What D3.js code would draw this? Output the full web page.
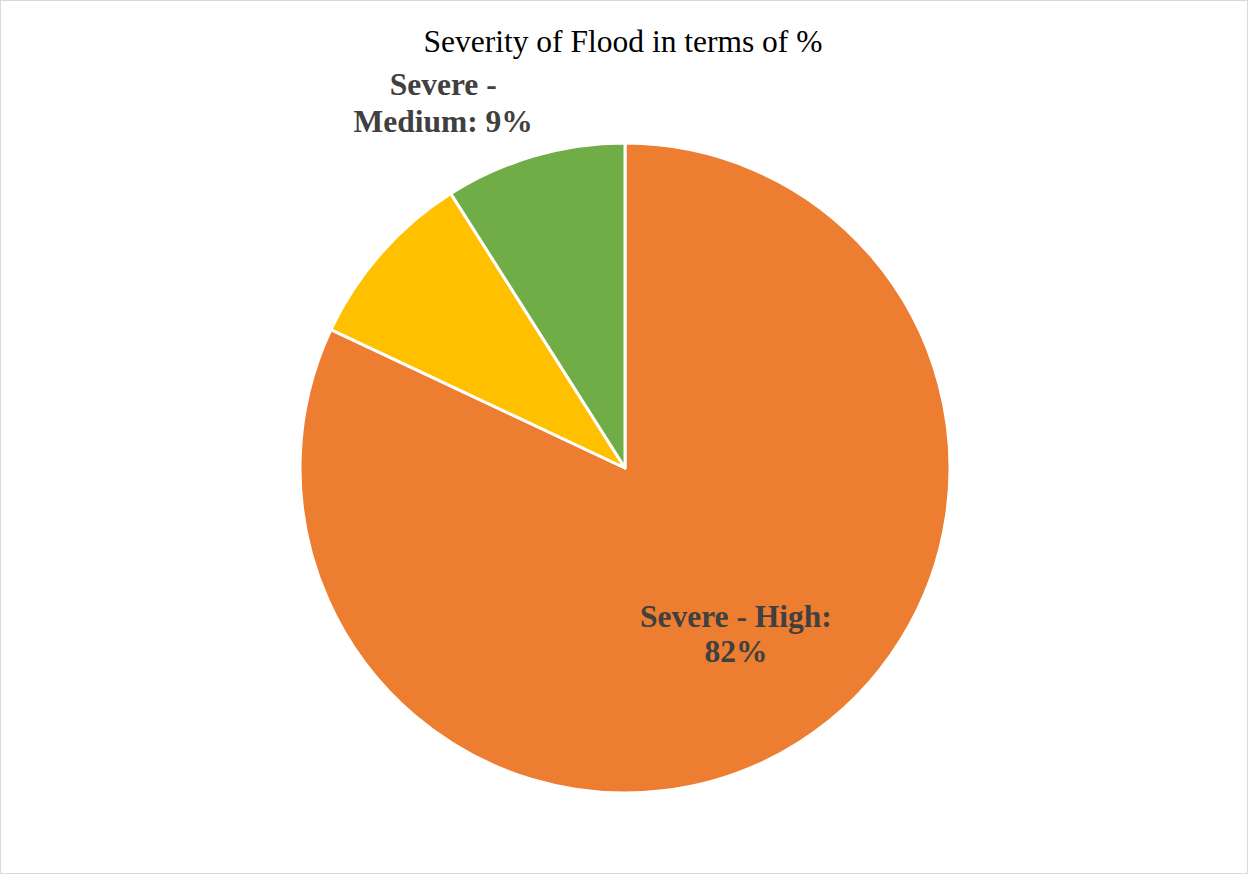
<!DOCTYPE html>
<html>
<head>
<meta charset="utf-8">
<script src="https://cdn.jsdelivr.net/npm/d3@7"></script>
<style>
  html, body { margin: 0; padding: 0; background: #ffffff; }
  svg { display: block; }
</style>
</head>
<body>
<script>
// ---- data ----
const categories = ["Severe - High", "Severe - Low", "Severe - Medium"];
const values = [82, 9, 9];
const colors = ["#ED7D31", "#FFC000", "#70AD47"];
const showLabel = [true, false, true];
const title = "Severity of Flood in terms of %";

// ---- layout ----
const W = 1249, H = 875;
const cx = 625, cy = 468, R = 325;

const svg = d3.select("body").append("svg")
  .attr("width", W).attr("height", H);

svg.append("rect")
  .attr("x", 0.5).attr("y", 0.5)
  .attr("width", W - 2).attr("height", H - 2)
  .attr("fill", "#ffffff")
  .attr("stroke", "#D9D9D9").attr("stroke-width", 1);

svg.append("text")
  .attr("x", 623).attr("y", 52)
  .attr("text-anchor", "middle")
  .attr("font-family", "'Liberation Serif', 'Times New Roman', serif")
  .attr("font-size", 31.5)
  .attr("fill", "#000000")
  .text(title);

const data = categories.map((c, i) => ({ name: c, value: values[i], color: colors[i], show: showLabel[i] }));

const pie = d3.pie().value(d => d.value).sort(null);
const arc = d3.arc().innerRadius(0).outerRadius(R);
const arcs = pie(data);

const g = svg.append("g").attr("transform", `translate(${cx},${cy})`);

g.selectAll("path").data(arcs).enter().append("path")
  .attr("d", arc)
  .attr("fill", d => d.data.color)
  .attr("stroke", "#ffffff")
  .attr("stroke-width", 3)
  .attr("stroke-linejoin", "round");

// label placement: inside for big slice, outside for small slices
function labelLines(d) {
  const pct = Math.round(d.value / d3.sum(values) * 100) + "%";
  if (d.name === "Severe - High") return [d.name + ":", pct];
  const parts = d.name.split(" - ");
  return [parts[0] + " -", parts[1] + ": " + pct];
}

function labelPos(a) {
  const mid = (a.startAngle + a.endAngle) / 2;
  if (a.data.value > 50) {
    const ang = mid - 0.025;
    const r = R * 0.613;
    return [Math.sin(ang) * r, -Math.cos(ang) * r, 35];
  } else {
    const ang = mid - 0.179;
    const r = R * 1.256;
    return [Math.sin(ang) * r, -Math.cos(ang) * r, 37];
  }
}

arcs.filter(a => a.data.show).forEach(a => {
  const [lx, ly, lineH] = labelPos(a);
  const lines = labelLines(a.data);
  const t = g.append("text")
    .attr("text-anchor", "middle")
    .attr("font-family", "'Liberation Serif', 'Times New Roman', serif")
    .attr("font-weight", "bold")
    .attr("font-size", 31.5)
    .attr("fill", "#404040");
  lines.forEach((ln, i) => {
    t.append("tspan")
      .attr("x", lx)
      .attr("y", ly + (i - (lines.length - 1) / 2) * lineH + 11)
      .text(ln);
  });
});
</script>
</body>
</html>
